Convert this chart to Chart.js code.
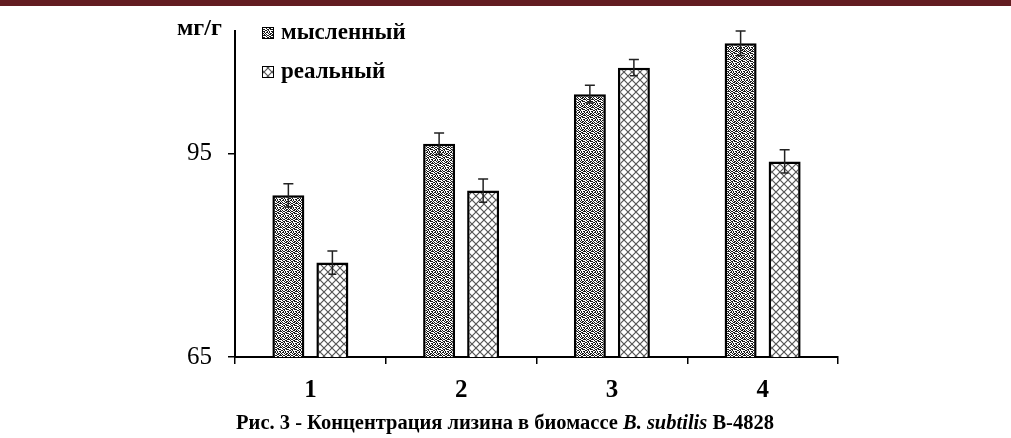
<!DOCTYPE html>
<html>
<head>
<meta charset="utf-8">
<script src="https://cdn.jsdelivr.net/npm/chart.js@4/dist/chart.umd.min.js"></script>
<style>
  body { margin: 0; background: #fff; }
  #wrap { position: relative; width: 1011px; height: 438px; overflow: hidden; }
  #topbar { position: absolute; left: 0; top: 0; width: 1011px; height: 6px; background: #631d21; }
  #chart { position: absolute; left: 0; top: 0; display: block; }
</style>
</head>
<body>
<div id="wrap">
  <canvas id="chart" width="1011" height="438"></canvas>
  <div id="topbar"></div>
</div>
<script>
const categories = ['1', '2', '3', '4'];
const seriesNames = ['мысленный', 'реальный'];
const thoughtValues = [88.8, 96.4, 103.7, 111.2];
const thoughtErrors = [1.7, 1.6, 1.3, 1.8];
const realValues = [78.9, 89.5, 107.6, 93.8];
const realErrors = [1.7, 1.7, 1.2, 1.7];
const yTicks = [65, 95];
const yMin = 65;
const yMax = 113;
const unitLabel = 'мг/г';
// caption pieces, the species name is italic
const captionParts = [
    ['Рис. 3 - Концентрация лизина в биомассе ', false],
    ['B. subtilis', true],
    [' B-4828', false]
];

// fill patterns like the old Excel hatches
function dotPattern() {
    const rows = [
        '10110100',
        '01001011',
        '10100110',
        '11011001',
        '00100110',
        '10011011',
        '01101000',
        '10010101'
    ];
    const c = document.createElement('canvas');
    c.width = 8; c.height = 8;
    const g = c.getContext('2d');
    g.fillStyle = '#fff';
    g.fillRect(0, 0, 8, 8);
    g.fillStyle = '#1a1a1a';
    rows.forEach((r, y) => {
        for (let x = 0; x < 8; x++) if (r[x] === '1') g.fillRect(x, y, 1, 1);
    });
    return g.createPattern(c, 'repeat');
}
function crossPattern() {
    const c = document.createElement('canvas');
    c.width = 8; c.height = 8;
    const g = c.getContext('2d');
    g.fillStyle = '#fff';
    g.fillRect(0, 0, 8, 8);
    g.strokeStyle = '#555';
    g.lineWidth = 1.2;
    g.beginPath();
    g.moveTo(0, 0); g.lineTo(8, 8);
    g.moveTo(8, 0); g.lineTo(0, 8);
    g.stroke();
    return g.createPattern(c, 'repeat');
}
const patterns = [dotPattern(), crossPattern()];
const errors = [thoughtErrors, realErrors];

const errorBars = {
    id: 'errorBars',
    afterDatasetsDraw(chart) {
        const ctx = chart.ctx;
        const y = chart.scales.y;
        ctx.save();
        ctx.strokeStyle = '#222';
        ctx.lineWidth = 1.5;
        chart.data.datasets.forEach((ds, i) => {
            chart.getDatasetMeta(i).data.forEach((bar, j) => {
                const v = ds.data[j], e = errors[i][j];
                const top = y.getPixelForValue(v + e);
                const bot = y.getPixelForValue(v - e);
                ctx.beginPath();
                ctx.moveTo(bar.x, top); ctx.lineTo(bar.x, bot);
                ctx.moveTo(bar.x - 5, top); ctx.lineTo(bar.x + 5, top);
                ctx.moveTo(bar.x - 4, bot); ctx.lineTo(bar.x + 4, bot);
                ctx.stroke();
            });
        });
        ctx.restore();
    }
};

const sideText = {
    id: 'sideText',
    afterDraw(chart) {
        const ctx = chart.ctx;
        ctx.save();
        ctx.fillStyle = '#000';
        ctx.textBaseline = 'middle';
        ctx.font = 'bold 24px "Liberation Serif"';
        ctx.fillText(unitLabel, 177, 29);
        // legend
        ctx.font = 'bold 23px "Liberation Serif"';
        seriesNames.forEach((name, i) => {
            const cy = 33 + i * 39;
            ctx.fillStyle = patterns[i];
            ctx.fillRect(262, cy - 6, 12, 12);
            ctx.strokeStyle = '#000';
            ctx.lineWidth = 1;
            ctx.strokeRect(262.5, cy - 5.5, 11, 11);
            ctx.fillStyle = '#000';
            ctx.fillText(name, 281, cy);
        });
        // caption
        const fonts = ['bold 20.5px "Liberation Serif"', 'italic bold 20.5px "Liberation Serif"'];
        let total = 0;
        captionParts.forEach(p => { ctx.font = fonts[p[1] ? 1 : 0]; total += ctx.measureText(p[0]).width; });
        let x = 505 - total / 2;
        captionParts.forEach(p => {
            ctx.font = fonts[p[1] ? 1 : 0];
            ctx.fillText(p[0], x, 424);
            x += ctx.measureText(p[0]).width;
        });
        ctx.restore();
    }
};

new Chart(document.getElementById('chart'), {
    type: 'bar',
    data: {
        labels: categories,
        datasets: [{
            label: seriesNames[0],
            data: thoughtValues,
            backgroundColor: patterns[0],
            borderColor: '#000',
            borderWidth: 2.5
        }, {
            label: seriesNames[1],
            data: realValues,
            backgroundColor: patterns[1],
            borderColor: '#000',
            borderWidth: 2.5
        }]
    },
    options: {
        responsive: false,
        animation: false,
        devicePixelRatio: 1,
        categoryPercentage: 0.584,
        barPercentage: 0.727,
        layout: { padding: { left: 0, right: 173, top: 31, bottom: 0 } },
        plugins: {
            legend: { display: false },
            tooltip: { enabled: false }
        },
        scales: {
            x: {
                grid: { drawOnChartArea: false, tickLength: 7, color: '#000', lineWidth: 1.5 },
                border: { display: true, color: '#000', width: 2 },
                ticks: {
                    color: '#000',
                    padding: 12,
                    font: { family: 'Liberation Serif', size: 25, weight: 'bold' }
                },
                afterFit(s) { s.height = 81; }
            },
            y: {
                min: yMin,
                max: yMax,
                afterBuildTicks(s) { s.ticks = yTicks.map(v => ({ value: v })); },
                grid: { drawOnChartArea: false, tickLength: 7, color: '#000', lineWidth: 1.5 },
                border: { display: true, color: '#000', width: 2 },
                ticks: {
                    color: '#000',
                    padding: 16,
                    font: { family: 'Liberation Serif', size: 25 }
                },
                afterFit(s) { s.width = 235; }
            }
        }
    },
    plugins: [errorBars, sideText]
});
</script>
</body>
</html>
